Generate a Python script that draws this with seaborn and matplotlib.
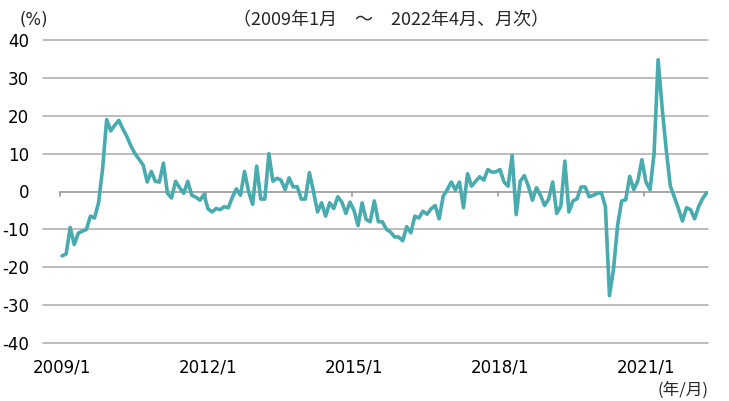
import numpy as np
import pandas as pd
import matplotlib
matplotlib.use('Agg')
import matplotlib.pyplot as plt
import seaborn as sns

# monthly values, 2009/1 - 2022/4 (%)
values = [
    -17, -16.5, -9.5, -14, -11, -10.5, -10, -6.5, -7, -3,
    6, 19, 16, 17.5, 18.8, 16.5, 14.5, 12, 10, 8.5,
    7, 2.5, 5.3, 2.7, 2.5, 7.5, -0.5, -1.7, 2.7, 1,
    -0.5, 2.7, -1, -1.5, -2.3, -0.8, -4.6, -5.4, -4.5, -4.8,
    -4, -4.3, -1.5, 0.7, -1, 5.3, 0, -3.4, 6.7, -2,
    -2, 10, 2.7, 3.5, 3, 0.5, 3.6, 1.2, 1.3, -2,
    -2, 5, 0, -5.4, -3, -6.5, -3, -4.5, -1.4, -2.8,
    -5.8, -2.8, -5, -9, -3, -7.4, -8, -2.5, -8, -8,
    -10, -10.7, -12, -12, -13, -9.3, -10.9, -6.5, -7, -5.2,
    -6, -4.6, -3.7, -7.2, -1.2, 0.5, 2.5, 0.4, 2.5, -4.3,
    4.7, 1.4, 2.7, 3.9, 3, 5.8, 5.1, 5.2, 5.8, 2.5,
    1.4, 9.5, -6.1, 2.7, 4.2, 1.4, -2.3, 1, -1, -3.7,
    -2, 2.5, -5.8, -3.9, 8, -5.4, -2.5, -1.9, 1.2, 1.2,
    -1.4, -1, -0.5, -0.3, -4, -27.5, -20.5, -9, -2.5, -2.2,
    4, 0.5, 2.8, 8.4, 2.5, 0.5, 10, 34.8, 22, 11,
    1.5, -1.5, -4.5, -7.8, -4.3, -4.8, -7.2, -4, -1.8, -0.3,
]
tick_labels = ['2009/1', '2012/1', '2015/1', '2018/1', '2021/1']
y_ticks = [40, 30, 20, 10, 0, -10, -20, -30, -40]

df = pd.DataFrame({'month': np.arange(len(values)), 'value': values})

sns.set_style('white')
plt.rcParams['font.family'] = ['DejaVu Sans', 'Noto Sans CJK JP']

fig = plt.figure(figsize=(7.29, 4.01), dpi=100)
ax = fig.add_axes([43 / 729, 1 - 346 / 401, 665 / 729, 309 / 401])

sns.lineplot(data=df, x='month', y='value', color='#4aabae', lw=2.6, ax=ax, zorder=3)

ax.set_xlim(-4.7, 159.3)
ax.set_ylim(-40.8, 40.8)
for s in ax.spines.values():
    s.set_visible(False)

# gridlines
for yv in y_ticks:
    if yv != 0:
        ax.axhline(yv, color='#ababab', lw=1.1, zorder=1, clip_on=False)

# zero axis with category tick marks
ax.plot([-0.5, 159.3], [0, 0], color='#999999', lw=1.2, zorder=2)
for t in [-0.5, 35.5, 71.5, 107.5, 143.5]:
    ax.plot([t, t], [0, -1.2], color='#999999', lw=1.2, zorder=2)

ax.set_yticks(y_ticks)
ax.set_yticklabels([str(v) for v in y_ticks], fontsize=12)
ax.set_xticks([0, 36, 72, 108, 144])
ax.set_xticklabels(tick_labels, fontsize=12)
ax.tick_params(axis='both', length=0, colors='#000000')
ax.tick_params(axis='y', pad=10)
ax.tick_params(axis='x', pad=9)
ax.set_xlabel('')
ax.set_ylabel('')

fig.text(34 / 729, 1 - 20 / 401, '(%)', fontsize=12, ha='center', va='center')
fig.text(391 / 729, 1 - 20 / 401, '（2009年1月　～　2022年4月、月次）', fontsize=13,
         ha='center', va='center', family=['Noto Sans CJK JP', 'DejaVu Sans'])
fig.text(683 / 729, 1 - 390 / 401, '(年/月)', fontsize=12, ha='center', va='center',
         family=['Noto Sans CJK JP', 'DejaVu Sans'])

fig.savefig('out.png', dpi=100)
